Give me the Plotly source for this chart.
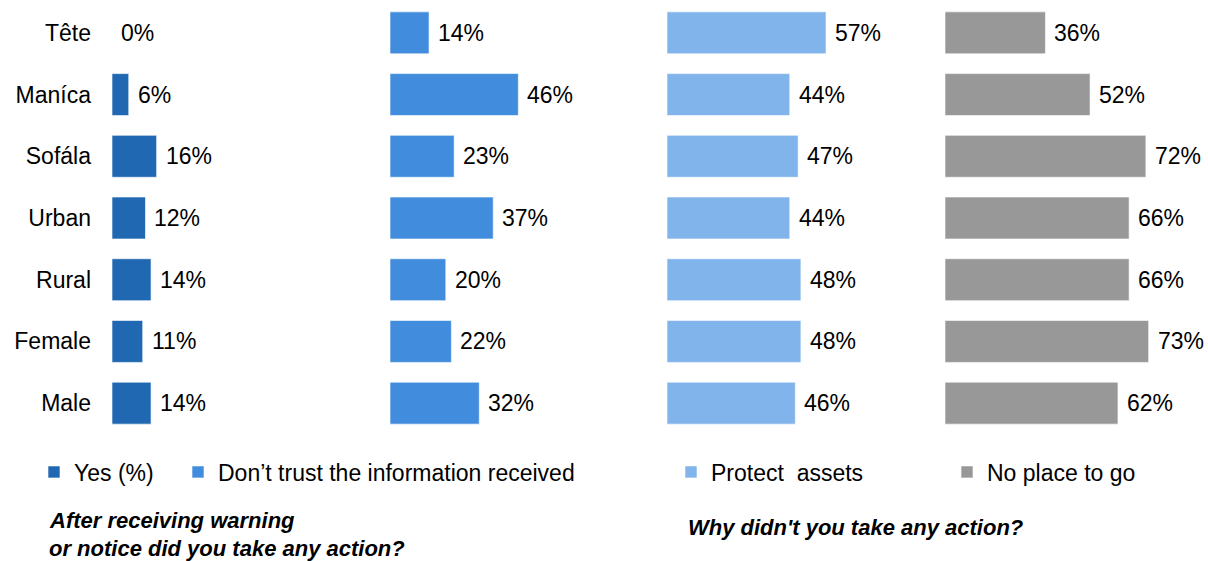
import plotly.graph_objects as go

categories = ["Tête", "Maníca", "Sofála", "Urban", "Rural", "Female", "Male"]
yes_pct = [0, 6, 16, 12, 14, 11, 14]
dont_trust = [14, 46, 23, 37, 20, 22, 32]
protect_assets = [57, 44, 47, 44, 48, 48, 46]
no_place = [36, 52, 72, 66, 66, 73, 62]

series_names = ["Yes (%)", "Don’t trust the information received", "Protect  assets", "No place to go"]
series_values = [yes_pct, dont_trust, protect_assets, no_place]
colors = ["#2068B1", "#418CDC", "#80B4EA", "#989898"]

W, H = 1208, 561
panel_px = [112, 390, 667, 945, 1208]
px_per_unit = 2.79
xaxes = ["x", "x2", "x3", "x4"]
legends = ["legend", "legend2", "legend3", "legend4"]
legend_text_px = [74, 218, 711, 987]

FONT = "Liberation Sans, Arial, sans-serif"

fig = go.Figure()
annotations = []
for i, (name, vals) in enumerate(zip(series_names, series_values)):
    fig.add_trace(go.Bar(
        x=vals, y=categories, orientation="h", name=name,
        marker=dict(color=colors[i], line=dict(color="rgba(255,255,255,0.6)", width=1)),
        xaxis=xaxes[i], yaxis="y", legend=legends[i], showlegend=True,
        hoverinfo="x+y",
    ))
    for c, v in zip(categories, vals):
        annotations.append(dict(
            x=v, y=c, xref=xaxes[i], yref="y", text=f"{v}%", showarrow=False,
            xanchor="left", yanchor="middle", xshift=7,
            font=dict(family=FONT, size=23, color="#000000"),
        ))

top, bottom = 2, 127
plot_h = H - top - bottom

def py(px):
    return (H - bottom - px) / plot_h

annotations += [
    dict(x=47 / W, y=py(520), xref="paper", yref="paper", xanchor="left", yanchor="middle",
         text="<b><i>After receiving warning</i></b>", showarrow=False,
         font=dict(family=FONT, size=22, color="#000000")),
    dict(x=47 / W, y=py(548), xref="paper", yref="paper", xanchor="left", yanchor="middle",
         text="<b><i>or notice did you take any action?</i></b>", showarrow=False,
         font=dict(family=FONT, size=22, color="#000000")),
    dict(x=686 / W, y=py(527), xref="paper", yref="paper", xanchor="left", yanchor="middle",
         text="<b><i>Why didn't you take any action?</i></b>", showarrow=False,
         font=dict(family=FONT, size=22, color="#000000")),
]

layout = dict(
    width=W, height=H,
    margin=dict(l=0, r=0, t=top, b=bottom, pad=0),
    paper_bgcolor="white", plot_bgcolor="white",
    bargap=0.32,
    font=dict(family=FONT, size=20, color="#000000"),
    annotations=annotations,
    yaxis=dict(
        categoryorder="array", categoryarray=categories, autorange="reversed",
        showgrid=False, zeroline=False, showline=False, ticks="",
        ticklabelstandoff=20, automargin=False,
        tickfont=dict(family=FONT, size=23, color="#000000"),
        anchor="x", domain=[0, 1],
    ),
)
for i, ax in enumerate(xaxes):
    key = "xaxis" if i == 0 else f"xaxis{i+1}"
    x0, x1 = panel_px[i], panel_px[i + 1]
    layout[key] = dict(
        domain=[x0 / W, x1 / W], range=[0, (x1 - x0) / px_per_unit],
        showgrid=False, zeroline=False, showline=False, showticklabels=False,
        ticks="", anchor="y", fixedrange=True,
    )
for i, lg in enumerate(legends):
    layout[lg] = dict(
        x=(legend_text_px[i] - 40) / W, y=py(472), xanchor="left", yanchor="middle",
        orientation="h", bgcolor="rgba(0,0,0,0)", borderwidth=0,
        font=dict(family=FONT, size=23, color="#000000"),
    )

fig.update_layout(**layout)
fig.write_html("out.html", config={"displayModeBar": False},
               post_script="document.body.style.margin='0';document.body.style.overflow='hidden';")
